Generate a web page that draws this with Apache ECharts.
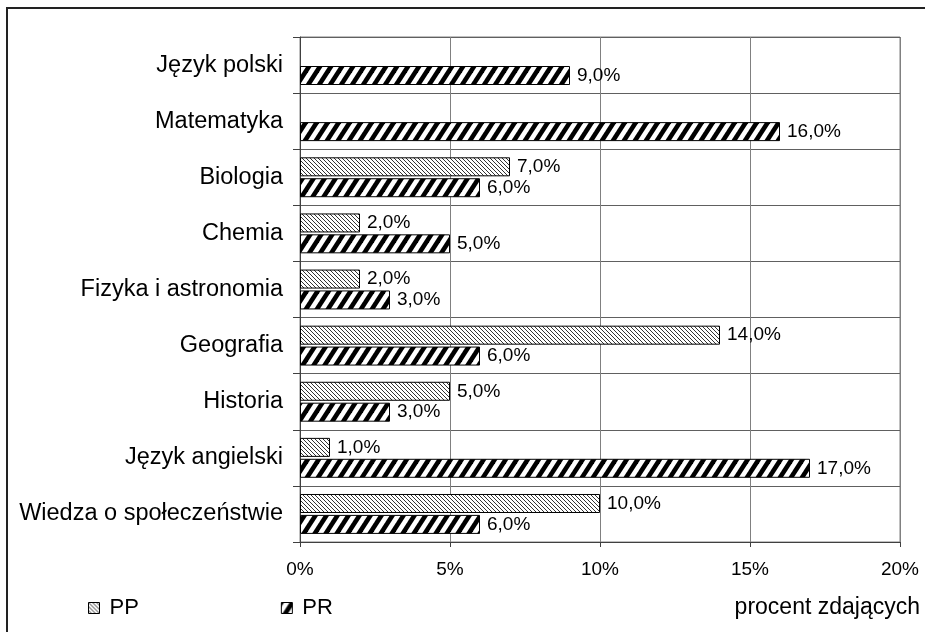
<!DOCTYPE html>
<html lang="pl">
<head>
<meta charset="UTF-8">
<title>PP / PR</title>
<script src="https://cdn.jsdelivr.net/npm/echarts@6/dist/echarts.min.js"></script>
<style>
  html, body { margin: 0; padding: 0; background: #fff; }
  #main { width: 925px; height: 632px; }
</style>
</head>
<body>
<div id="main"></div>
<script>
// dane
const przedmioty = ['Język polski', 'Matematyka', 'Biologia', 'Chemia', 'Fizyka i astronomia',
  'Geografia', 'Historia', 'Język angielski', 'Wiedza o społeczeństwie'];
const pp = ['-', '-', 7, 2, 2, 14, 5, 1, 10];
const pr = [9, 16, 6, 5, 3, 6, 3, 17, 6];
const osX = ['0%', '5%', '10%', '15%', '20%'];

// wzory kreskowania
function wzorPP() {
  const c = document.createElement('canvas');
  c.width = 4; c.height = 4;
  const g = c.getContext('2d');
  g.fillStyle = '#fff'; g.fillRect(0, 0, 4, 4);
  g.strokeStyle = '#333'; g.lineWidth = 1;
  for (const d of [-4, 0, 4]) {
    g.beginPath(); g.moveTo(d - 4, -4); g.lineTo(d + 8, 8); g.stroke();
  }
  return c;
}
function wzorPR() {
  const w = 11, h = 17;
  const c = document.createElement('canvas');
  c.width = w; c.height = h;
  const g = c.getContext('2d');
  g.fillStyle = '#fff'; g.fillRect(0, 0, w, h);
  g.strokeStyle = '#000'; g.lineWidth = 4.6;
  for (const d of [-w, 0, w]) {
    // linie wydłużone poza kafelek, żeby nie było przerw na łączeniach
    g.beginPath(); g.moveTo(d - w, 2 * h); g.lineTo(d + 2 * w, -h); g.stroke();
  }
  return c;
}
const kolorPP = { image: wzorPP(), repeat: 'repeat' };
const kolorPR = { image: wzorPR(), repeat: 'repeat' };

const fmt = p => p.value.toFixed(1).replace('.', ',') + '%';
const font = 'Liberation Sans, Arial, sans-serif';

const chart = echarts.init(document.getElementById('main'));
chart.setOption({
  animation: false,
  backgroundColor: '#fff',
  textStyle: { fontFamily: font },
  grid: { left: 300, right: 25, top: 37, bottom: 90, show: true, borderColor: '#808080', borderWidth: 1 },
  title: {
    text: 'procent zdających', right: 5, top: 596, padding: 0,
    textStyle: { fontFamily: font, fontSize: 23, fontWeight: 'normal', color: '#000' }
  },
  legend: {
    left: 88, top: 597, padding: 0, itemWidth: 11, itemHeight: 11, itemGap: 142,
    textStyle: { fontFamily: font, fontSize: 22, color: '#000', padding: [0, 0, 0, 5] },
    data: [
      { name: 'PP', icon: 'rect', itemStyle: { color: kolorPP, borderColor: '#000', borderWidth: 1 } },
      { name: 'PR', icon: 'rect', itemStyle: { color: kolorPR, borderColor: '#000', borderWidth: 1 } }
    ]
  },
  graphic: [{
    type: 'rect', shape: { x: 7, y: 8, width: 1000, height: 1000 },
    style: { fill: null, stroke: '#222', lineWidth: 2 }, silent: true
  }],
  xAxis: {
    type: 'value', min: 0, max: 20, interval: 5,
    axisLine: { show: true, lineStyle: { color: '#404040' } },
    axisTick: { show: true, length: 5, lineStyle: { color: '#404040' } },
    splitLine: { show: true, lineStyle: { color: '#808080', width: 1 } },
    axisLabel: { formatter: v => osX[v / 5], color: '#000', fontSize: 19, margin: 18, fontFamily: font }
  },
  yAxis: {
    type: 'category', data: przedmioty, inverse: true,
    axisLine: { show: true, lineStyle: { color: '#404040' } },
    axisTick: { show: true, length: 7, lineStyle: { color: '#404040' } },
    splitLine: { show: true, lineStyle: { color: '#606060', width: 1 } },
    axisLabel: { color: '#000', fontSize: 23.5, margin: 17, fontFamily: font }
  },
  series: [
    {
      name: 'PP', type: 'bar', data: pp, barWidth: 19, barGap: '10%',
      itemStyle: { color: kolorPP, borderColor: '#000', borderWidth: 1 },
      label: { show: true, position: 'right', distance: 7, formatter: fmt, color: '#000', fontSize: 19, fontFamily: font }
    },
    {
      name: 'PR', type: 'bar', data: pr, barWidth: 19, barGap: '10%',
      itemStyle: { color: kolorPR, borderColor: '#000', borderWidth: 1 },
      label: { show: true, position: 'right', distance: 7, formatter: fmt, color: '#000', fontSize: 19, fontFamily: font }
    }
  ]
});
</script>
</body>
</html>
